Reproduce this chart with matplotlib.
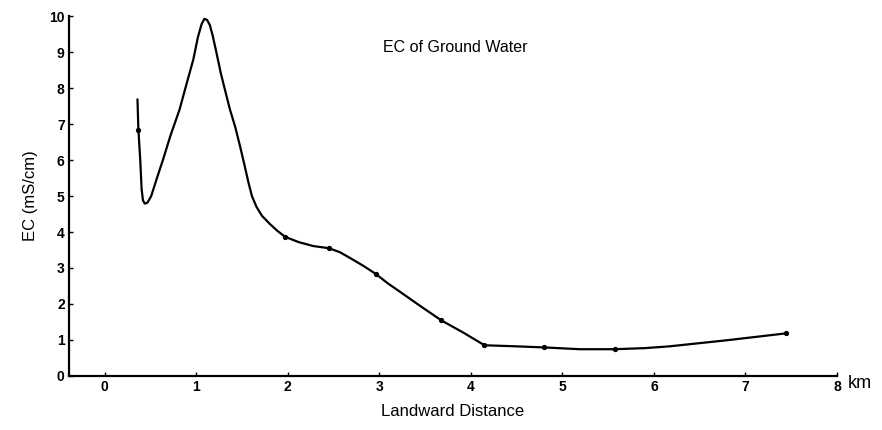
import matplotlib.pyplot as plt

# measured wells (dots on the curve)
dist_pts = [0.37, 1.97, 2.45, 2.96, 3.68, 4.15, 4.80, 5.57, 7.44]
ec_pts = [6.85, 3.87, 3.55, 2.84, 1.54, 0.85, 0.79, 0.74, 1.18]

# hand-drawn curve
curve_x = [0.36, 0.37, 0.39, 0.405, 0.42, 0.44, 0.47, 0.51, 0.57, 0.64, 0.72,
           0.82, 0.91, 0.97, 1.02, 1.06, 1.09, 1.12, 1.15, 1.18, 1.22, 1.27,
           1.32, 1.37, 1.43, 1.48, 1.53, 1.57, 1.61, 1.66, 1.72, 1.80, 1.88,
           1.97, 2.12, 2.28, 2.45, 2.57, 2.68, 2.82, 2.96, 3.09, 3.22, 3.45,
           3.68, 3.92, 4.15, 4.50, 4.80, 5.19, 5.57, 5.90, 6.17, 6.80, 7.44]
curve_y = [7.69, 6.85, 6.02, 5.20, 4.88, 4.79, 4.82, 5.00, 5.48, 6.02, 6.68,
           7.41, 8.25, 8.80, 9.42, 9.78, 9.93, 9.90, 9.76, 9.48, 9.02, 8.42,
           7.91, 7.41, 6.90, 6.39, 5.85, 5.40, 5.00, 4.70, 4.45, 4.24, 4.05,
           3.87, 3.72, 3.61, 3.55, 3.44, 3.28, 3.07, 2.84, 2.58, 2.35, 1.94,
           1.54, 1.20, 0.85, 0.82, 0.79, 0.74, 0.74, 0.77, 0.82, 0.99, 1.18]

x_ticks = [0, 1, 2, 3, 4, 5, 6, 7, 8]
y_ticks = [0, 1, 2, 3, 4, 5, 6, 7, 8, 9, 10]

plt.rcParams['font.family'] = ['Liberation Sans', 'DejaVu Sans']

fig = plt.figure(figsize=(8.82, 4.30), dpi=100)
ax = fig.add_axes([0.078, 0.126, 0.871, 0.836])

ax.plot(curve_x, curve_y, color='black', lw=1.6,
        solid_capstyle='round', solid_joinstyle='round')
ax.plot(dist_pts, ec_pts, 'o', color='black', ms=2.8)

ax.set_xlim(-0.39, 8)
ax.set_ylim(0, 10)
ax.set_xticks(x_ticks)
ax.set_yticks(y_ticks)
ax.tick_params(direction='in', length=3, width=1, labelsize=10, pad=3)
for lab in ax.get_xticklabels() + ax.get_yticklabels():
    lab.set_fontweight('bold')

for side in ['top', 'right']:
    ax.spines[side].set_visible(False)
for side in ['left', 'bottom']:
    ax.spines[side].set_linewidth(1.6)

ax.set_xlabel('Landward Distance', fontsize=12, labelpad=7)
ax.set_ylabel('EC (mS/cm)', fontsize=12, labelpad=8)
ax.text(3.83, 9.12, 'EC of Ground Water', fontsize=11.5, ha='center', va='center')
ax.text(8.12, -0.22, 'km', fontsize=13, ha='left', va='center', clip_on=False)

fig.savefig('out.png', dpi=100)
